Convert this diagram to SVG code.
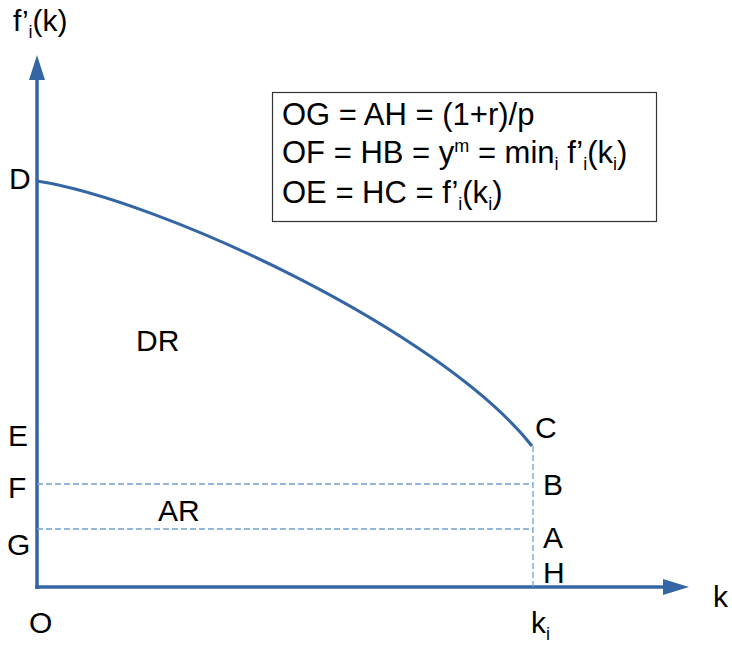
<svg xmlns="http://www.w3.org/2000/svg" width="732" height="646" viewBox="0 0 732 646">
<style>
text{font-family:"Liberation Sans",Arial,sans-serif;font-size:30px;fill:#000}
.b{font-size:31px}
.s{font-size:18px}
.ax{stroke:#3465a4;stroke-width:3.5;fill:none}
.d{stroke:#729fcf;stroke-width:1.3;stroke-dasharray:6,3;fill:none}
</style>
<rect width="732" height="646" fill="#fff"/>
<g id="connectors">
<path class="ax" d="M37,589 V78"/>
<polygon points="37,55 29,80 45,80" fill="#3465a4"/>
<path class="ax" d="M35.25,587 H665"/>
<polygon points="689,587 663,579 663,595" fill="#3465a4"/>
<path class="d" d="M533,446 V587"/>
<path class="d" d="M37,484 H533"/>
<path class="d" d="M37,529 H533"/>
<path d="M37,181 C160,200 440,330 532,446" stroke="#3465a4" stroke-width="3" fill="none"/>
</g>
<g id="legend">
<rect x="272.5" y="92.5" width="384" height="129" fill="#fff" stroke="#333" stroke-width="1.2"/>
<text class="b" x="282" y="125">OG = AH = (1+r)/p</text>
<text class="b" x="282" y="163">OF = HB = y<tspan class="s" dy="-11">m</tspan><tspan dy="11"> = min</tspan><tspan class="s" dy="7">i</tspan><tspan dy="-7"> f’</tspan><tspan class="s" dy="7">i</tspan><tspan dy="-7">(k</tspan><tspan class="s" dy="7">i</tspan><tspan dy="-7">)</tspan></text>
<text class="b" x="282" y="203">OE = HC = f’<tspan class="s" dy="7">i</tspan><tspan dy="-7">(k</tspan><tspan class="s" dy="7">i</tspan><tspan dy="-7">)</tspan></text>
</g>
<g id="labels">
<text x="13" y="31">f’<tspan class="s" dy="7">i</tspan><tspan dy="-7">(k)</tspan></text>
<text x="9" y="189">D</text>
<text x="8" y="446">E</text>
<text x="8" y="498">F</text>
<text x="7" y="555">G</text>
<text x="29" y="633">O</text>
<text x="713" y="607">k</text>
<text x="531" y="633">k<tspan class="s" dy="7">i</tspan></text>
<text x="535" y="438">C</text>
<text x="543" y="495">B</text>
<text x="543" y="548">A</text>
<text x="543" y="583">H</text>
<text x="136" y="351">DR</text>
<text x="158" y="521">AR</text>
</g>
</svg>
